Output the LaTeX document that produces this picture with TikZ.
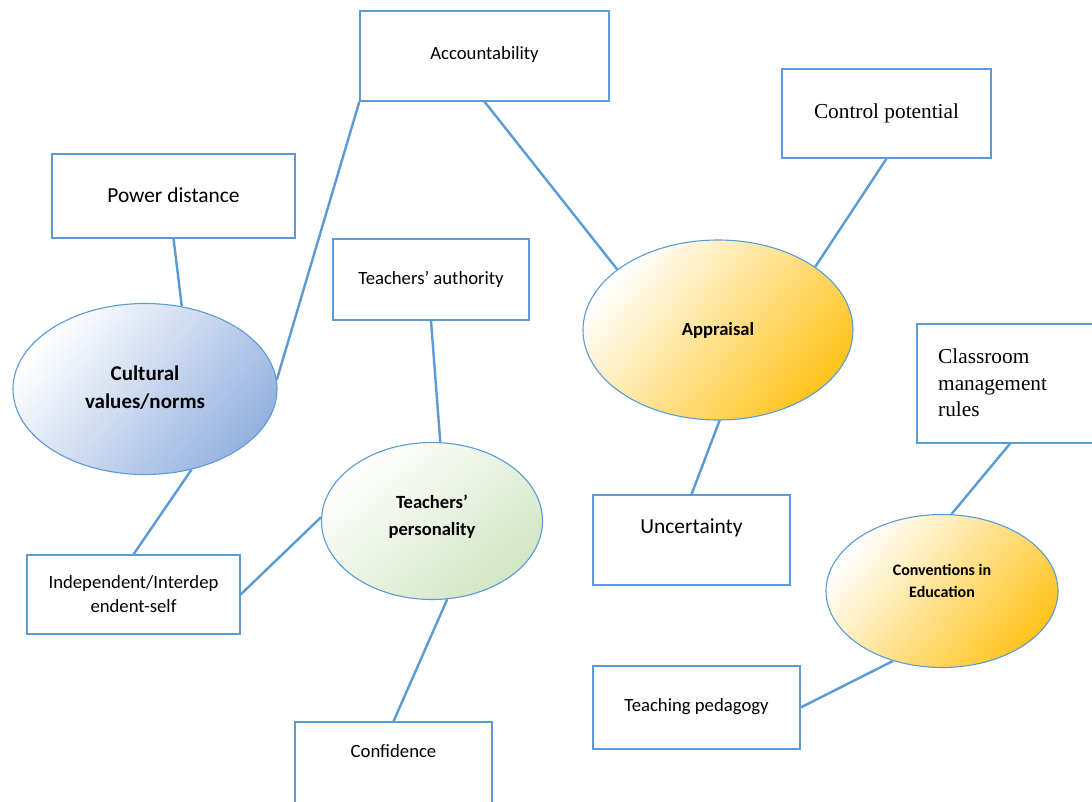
\documentclass[tikz,border=0pt]{standalone}
\usepackage{fontspec}
\setmainfont{Carlito}
\newfontfamily\seriffont{Liberation Serif}
\usetikzlibrary{calc,shapes.geometric}
\definecolor{linkblue}{RGB}{91,155,213}
\definecolor{cultblue}{RGB}{150,178,224}
\definecolor{cultmid}{RGB}{226,233,246}
\definecolor{apgold}{RGB}{255,196,30}
\definecolor{apmid}{RGB}{255,234,175}
\definecolor{pgreen}{RGB}{210,230,196}
\definecolor{pmid}{RGB}{245,250,241}
\tikzset{
  box/.style={draw=linkblue, line width=1.3pt, fill=white, inner sep=0pt},
  oval/.style={ellipse, draw=linkblue, line width=1.1pt, inner sep=0pt, align=center},
  link/.style={draw=linkblue, line width=2.4pt},
  lbl/.style={font=\fontsize{18.7}{24}\selectfont, align=center, inner sep=0pt},
  biglbl/.style={font=\fontsize{21.4}{26}\selectfont, align=center, inner sep=0pt},
  seriflbl/.style={font=\seriffont\fontsize{21.3}{26.5}\selectfont, align=left, inner sep=0pt},
  boldlbl/.style={align=center, inner sep=0pt},
}
\begin{document}
\begin{tikzpicture}[x=1pt,y=-1pt]
\useasboundingbox (0,0) rectangle (1092,801);
\fill[white] (0,0) rectangle (1092,801);

% rectangular concept boxes
\node[box, minimum width=249, minimum height=90] (acc) at (484.5,56) {};
\node[lbl] (acct) at (484.5,55) {Accountability};
\node[box, minimum width=209, minimum height=89] (cp) at (886.5,113.5) {};
\node[seriflbl] (cpt) at (886.5,113) {Control potential};
\node[box, minimum width=243, minimum height=84] (pd) at (173.5,196) {};
\node[biglbl] (pdt) at (173.5,195) {Power distance};
\node[box, minimum width=196, minimum height=81] (ta) at (431,279.5) {};
\node[lbl] (tat) at (431,279) {Teachers’ authority};
\node[box, minimum width=185, minimum height=119] (cm) at (1009.5,383.5) {};
\node[seriflbl, anchor=north west] (cmt) at (938,349) {Classroom\\management\\rules};
\node[box, minimum width=197, minimum height=90] (unc) at (691.5,540) {};
\node[biglbl] (unct) at (691.5,528) {Uncertainty};
\node[box, minimum width=213, minimum height=79] (ind) at (133.5,594.5) {};
\node[lbl] (indt) at (133.5,594) {Independent/Interdep\\endent-self};
\node[box, minimum width=207, minimum height=83] (tp) at (696.5,707.5) {};
\node[lbl] (tpt) at (696.5,707) {Teaching pedagogy};
\node[box, minimum width=197, minimum height=90] (conf) at (393.5,767) {};
\node[lbl] (conft) at (393.5,751) {Confidence};

% shaded ellipses
\node[oval, minimum width=264, minimum height=171,
      top color=white, middle color=cultmid, bottom color=cultblue, shading angle=50]
      (cult) at (145,389) {};
\node[boldlbl, font=\bfseries\fontsize{21}{28}\selectfont] (cultt) at (145,388) {Cultural\\values/norms};
\node[oval, minimum width=221, minimum height=157,
      top color=white, middle color=pmid, bottom color=pgreen, shading angle=40]
      (pers) at (432,521) {};
\node[boldlbl, font=\bfseries\fontsize{18.6}{27}\selectfont] (perst) at (432,517) {Teachers’\\personality};
\node[oval, minimum width=270, minimum height=180,
      top color=white, middle color=apmid, bottom color=apgold, shading angle=50]
      (appr) at (718,330) {};
\node[boldlbl, font=\bfseries\fontsize{18.6}{24}\selectfont] (apprt) at (718,330) {Appraisal};
\node[oval, minimum width=232, minimum height=153,
      top color=white, middle color=apmid, bottom color=apgold, shading angle=50]
      (conv) at (942,591) {};
\node[boldlbl, font=\bfseries\fontsize{16}{22}\selectfont] (convt) at (942,581) {Conventions in\\Education};

% connectors
\draw[link] (pd.south) -- (cult.66.6);
\draw[link] (acc.south west) -- (cult.4);
\draw[link] (cult.-60.6) -- (ind.north);
\draw[link] (ind.east) -- (pers.178);
\draw[link] (ta.south) -- (pers.84.6);
\draw[link] (pers.-79.7) -- (conf.north);
\draw[link] (acc.south) -- (appr.149.3);
\draw[link] (cp.south) -- (appr.33.4);
\draw[link] (appr.-89.4) -- (unc.north);
\draw[link] ($(cm.south)+(0.5,0)$) -- (conv.83.9);
\draw[link] (conv.-125.2) -- (tp.east);
\end{tikzpicture}
\end{document}
